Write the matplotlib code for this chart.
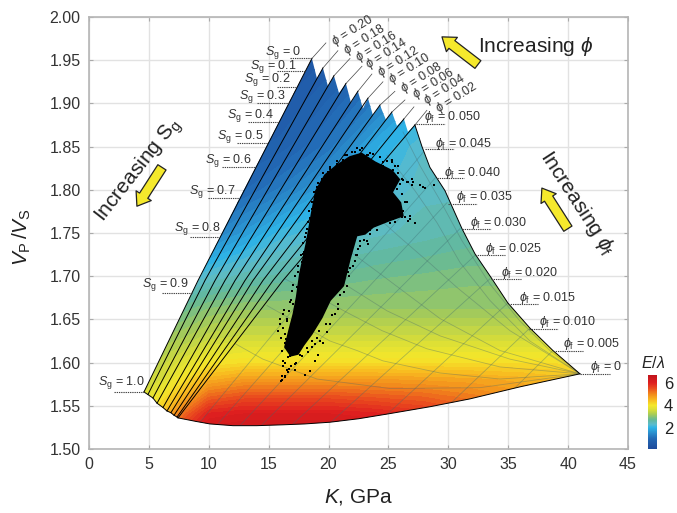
import matplotlib
matplotlib.use("Agg")
import matplotlib.pyplot as plt
from matplotlib.colors import LinearSegmentedColormap, Normalize
from matplotlib.cm import ScalarMappable
from matplotlib.patches import FancyArrowPatch, PathPatch
from matplotlib.path import Path

plt.rcParams["font.family"] = ["Liberation Sans", "DejaVu Sans"]
plt.rcParams["mathtext.fontset"] = "custom"
plt.rcParams["mathtext.rm"] = "Liberation Sans"
plt.rcParams["mathtext.it"] = "Liberation Sans:italic"
plt.rcParams["mathtext.fallback"] = "stixsans"

# constant porosity lines: peak, middle, lower end
peak_k = [18.61, 19.53, 20.45, 21.45, 22.45, 23.29, 24.29, 25.29, 26.29, 27.21]
peak_v = [1.952, 1.941, 1.932, 1.923, 1.914, 1.906, 1.898, 1.890, 1.882, 1.875]
mid_k = [9.10, 9.68, 10.52, 11.35, 12.19, 13.02, 13.69, 14.52, 15.36, 16.19]
mid_v = 1.695
end_k = [4.59, 4.92, 5.34, 5.68, 6.18, 6.51, 6.84, 7.10, 7.35, 7.43]
end_v = [1.566, 1.563, 1.559, 1.553, 1.548, 1.544, 1.542, 1.539, 1.537, 1.536]
valley_k = [19.03, 19.95, 20.87, 21.87, 22.87, 23.71, 24.79, 25.71, 26.63]
valley_v = [1.929, 1.920, 1.912, 1.901, 1.894, 1.886, 1.881, 1.874, 1.867]

# outline of the model space
right_k = [27.21, 27.80, 28.46, 29.72, 31.14, 32.22, 33.64, 34.97, 36.81, 38.73, 40.99]
right_v = [1.875, 1.850, 1.826, 1.799, 1.755, 1.726, 1.697, 1.669, 1.640, 1.614, 1.587]
bottom_k = [40.99, 36.00, 31.80, 28.50, 25.13, 22.50, 20.12, 18.00, 16.19, 14.00, 12.02, 10.10, 8.90, 7.43]
bottom_v = [1.587, 1.572, 1.558, 1.549, 1.541, 1.535, 1.531, 1.529, 1.528, 1.527, 1.527, 1.529, 1.532, 1.536]
left_k = [4.59, 8.68, 12.60, 18.61]
left_v = [1.566, 1.683, 1.791, 1.952]

# E/lambda
grid_k = [4, 6, 8, 10, 13, 16, 20, 24, 28, 32, 36, 42]
grid_v = [1.52, 1.54, 1.56, 1.58, 1.60, 1.63, 1.66, 1.70, 1.75, 1.80, 1.85, 1.90, 1.96]
grid_e = [
    [3.8, 4.8, 5.8, 6.3, 6.4, 6.4, 6.4, 6.3, 6.1, 5.9, 5.6, 4.8],
    [3.7, 4.4, 5.3, 6.0, 6.1, 6.1, 6.1, 6.0, 5.8, 5.5, 5.2, 4.7],
    [3.6, 4.0, 4.6, 5.3, 5.5, 5.5, 5.5, 5.4, 5.3, 5.1, 4.9, 4.5],
    [3.4, 3.6, 4.1, 4.6, 4.8, 4.8, 4.8, 4.8, 4.75, 4.7, 4.6, 4.4],
    [3.2, 3.4, 3.7, 4.0, 4.1, 4.1, 4.1, 4.1, 4.1, 4.1, 4.1, 4.1],
    [2.9, 3.1, 3.2, 3.4, 3.5, 3.5, 3.5, 3.5, 3.5, 3.5, 3.5, 3.5],
    [2.4, 2.6, 2.8, 3.0, 3.1, 3.1, 3.1, 3.1, 3.1, 3.1, 3.1, 3.1],
    [1.8, 2.0, 2.1, 2.3, 2.5, 2.6, 2.7, 2.8, 2.85, 2.9, 2.9, 2.9],
    [1.0, 1.1, 1.2, 1.3, 1.7, 2.1, 2.3, 2.4, 2.5, 2.6, 2.6, 2.6],
    [0.6, 0.7, 0.8, 0.9, 1.0, 1.3, 1.8, 2.1, 2.4, 2.4, 2.4, 2.4],
    [0.4, 0.4, 0.5, 0.6, 0.7, 0.8, 1.2, 1.9, 2.3, 2.3, 2.3, 2.3],
    [0.3, 0.3, 0.4, 0.4, 0.5, 0.6, 0.9, 1.3, 1.9, 2.2, 2.2, 2.2],
    [0.2, 0.2, 0.2, 0.3, 0.3, 0.4, 0.6, 0.9, 1.2, 1.6, 2.0, 2.2],
]

# gray lines inside the model space
pf_lines_k = [[28.05, 9.27], [29.05, 10.77], [29.88, 12.60], [30.97, 14.44], [32.22, 17.03],
              [33.47, 20.28], [34.97, 24.96], [36.81, 30.13], [38.73, 35.14]]
pf_lines_v = [[1.846, 1.531], [1.816, 1.529], [1.785, 1.527], [1.755, 1.528], [1.724, 1.529],
              [1.697, 1.532], [1.669, 1.541], [1.640, 1.552], [1.614, 1.565]]
fan_k = [
    [26.21, 27.63, 29.30, 31.14, 33.47, 35.98, 38.48, 40.99],
    [24.87, 27.21, 29.05, 30.97, 33.47, 36.81, 40.99],
    [22.45, 23.71, 25.96, 28.46, 30.72, 35.14, 40.99],
    [20.12, 22.04, 24.29, 26.21, 29.30, 34.31, 40.99],
    [18.28, 21.54, 24.87, 29.30, 35.14, 40.99],
    [16.36, 21.54, 24.46, 28.21, 34.31, 40.99],
    [14.86, 20.12, 22.37, 24.54, 29.30, 34.31, 40.99],
    [12.19, 14.52, 19.03, 25.13, 32.64, 40.99],
]
fan_v = [
    [1.867, 1.828, 1.788, 1.741, 1.691, 1.648, 1.614, 1.587],
    [1.840, 1.799, 1.762, 1.716, 1.672, 1.625, 1.587],
    [1.794, 1.773, 1.745, 1.715, 1.687, 1.637, 1.587],
    [1.755, 1.726, 1.703, 1.683, 1.651, 1.614, 1.587],
    [1.725, 1.689, 1.660, 1.631, 1.604, 1.587],
    [1.697, 1.658, 1.637, 1.616, 1.595, 1.587],
    [1.666, 1.625, 1.614, 1.602, 1.588, 1.581, 1.587],
    [1.622, 1.604, 1.581, 1.570, 1.571, 1.587],
]

# measured cloud: dense part and the loose points around it
cloud_k = [16.85, 16.36, 16.70, 17.06, 17.34, 17.61, 18.17, 18.58, 18.95, 19.70, 20.67, 21.78, 22.76, 23.87,
           25.30, 25.90, 25.30, 26.00, 26.20, 25.00, 23.73, 23.04, 22.34, 21.78, 21.23, 20.12, 19.43, 18.59, 17.90, 17.45]
cloud_v = [1.608, 1.618, 1.637, 1.656, 1.676, 1.703, 1.739, 1.772, 1.799, 1.817, 1.828, 1.838, 1.842, 1.832,
           1.822, 1.812, 1.797, 1.785, 1.770, 1.764, 1.757, 1.749, 1.747, 1.720, 1.689, 1.672, 1.652, 1.633, 1.620, 1.610]
loose_k = [16.92, 16.78, 16.31, 16.23, 15.95, 15.95, 15.75, 16.50, 16.36, 16.36, 16.14, 16.23, 16.23, 16.50,
           16.64, 16.36, 16.14, 16.03, 16.36, 16.78, 17.20, 18.31, 18.87, 18.45, 18.03, 19.15, 19.29, 19.56,
           18.87, 19.84, 19.01, 18.59, 20.12, 20.54, 20.82, 17.48, 17.76,
           25.26, 25.54, 25.82, 26.10, 25.40, 25.26, 25.96, 26.52, 26.93, 27.07, 26.93, 27.63, 27.91, 28.05,
           28.80, 25.68, 25.40, 25.26, 25.96, 26.52, 25.68, 26.24, 25.82, 26.38, 26.79, 27.21, 25.40, 25.12,
           24.43, 24.01, 23.45, 23.18, 23.32, 24.57,
           22.20, 22.76, 22.34, 23.18, 21.23, 20.11, 19.42, 19.00, 18.72, 18.44, 18.17, 17.94, 17.75,
           22.48, 22.20, 21.64, 22.62,
           16.08, 16.45, 16.64, 17.06, 17.34, 17.48, 17.89, 18.03, 18.59, 19.28, 19.98, 20.67, 21.37, 21.93,
           22.62, 23.32, 23.74, 24.57, 25.27, 25.82, 26.24, 26.66, 26.80, 26.66, 26.10, 25.54, 23.46, 22.62,
           22.40, 21.79, 21.51, 20.95, 26.10, 25.68, 26.38,
           17.00, 17.20, 17.45, 17.70, 17.90, 18.10, 18.30, 18.40, 18.60, 18.75, 19.10, 19.50, 20.10, 20.70,
           21.50, 23.50, 24.30, 24.90, 23.00, 22.60, 22.30, 22.00, 21.70, 21.30, 20.80, 20.30, 19.80, 19.20,
           18.60, 18.20, 17.00, 16.60, 17.30, 16.90, 17.60, 16.40, 16.70, 17.20, 16.50, 16.70, 16.90, 16.20, 16.00]
loose_v = [1.683, 1.670, 1.661, 1.656, 1.650, 1.645, 1.637, 1.648, 1.633, 1.623, 1.614, 1.602, 1.596, 1.592,
           1.589, 1.585, 1.580, 1.579, 1.583, 1.608, 1.598, 1.612, 1.602, 1.590, 1.586, 1.609, 1.625, 1.623,
           1.621, 1.635, 1.629, 1.618, 1.645, 1.656, 1.662, 1.616, 1.608,
           1.834, 1.828, 1.819, 1.813, 1.823, 1.813, 1.807, 1.809, 1.813, 1.809, 1.805, 1.805, 1.803, 1.802,
           1.806, 1.801, 1.793, 1.786, 1.784, 1.786, 1.778, 1.776, 1.772, 1.768, 1.766, 1.762, 1.766, 1.761,
           1.761, 1.753, 1.749, 1.741, 1.737, 1.828,
           1.844, 1.848, 1.848, 1.840, 1.834, 1.824, 1.813, 1.803, 1.786, 1.767, 1.755, 1.728, 1.716,
           1.732, 1.718, 1.705, 1.763,
           1.585, 1.627, 1.621, 1.668, 1.687, 1.705, 1.726, 1.745, 1.778, 1.807, 1.821, 1.830, 1.840, 1.844,
           1.846, 1.840, 1.842, 1.832, 1.832, 1.828, 1.811, 1.809, 1.770, 1.764, 1.768, 1.763, 1.753, 1.741,
           1.724, 1.710, 1.689, 1.678, 1.795, 1.784, 1.786,
           1.690, 1.700, 1.712, 1.725, 1.738, 1.750, 1.763, 1.775, 1.786, 1.797, 1.808, 1.820, 1.826, 1.833,
           1.840, 1.843, 1.838, 1.833, 1.742, 1.735, 1.725, 1.712, 1.700, 1.682, 1.668, 1.655, 1.645, 1.636,
           1.625, 1.617, 1.612, 1.606, 1.600, 1.596, 1.609, 1.600, 1.593, 1.592, 1.650, 1.660, 1.672, 1.640, 1.628]

# labels and their leaders
sg_names = ["0", "0.1", "0.2", "0.3", "0.4", "0.5", "0.6", "0.7", "0.8", "0.9", "1.0"]
sg_text_k = [16.19, 15.36, 14.86, 14.44, 13.44, 12.60, 11.60, 10.27, 9.02, 6.34, 2.67]
sg_text_v = [1.959, 1.943, 1.928, 1.908, 1.886, 1.862, 1.834, 1.798, 1.755, 1.690, 1.577]
sg_lead_k0 = [16.78, 15.69, 15.69, 14.02, 13.27, 12.35, 11.10, 9.93, 8.43, 6.09, 2.09]
sg_lead_k1 = [18.61, 18.03, 17.36, 16.69, 15.86, 14.94, 13.94, 12.52, 10.87, 8.60, 4.59]
sg_lead_v = [1.952, 1.937, 1.919, 1.901, 1.878, 1.854, 1.826, 1.790, 1.745, 1.681, 1.566]

pf_names = ["0.050", "0.045", "0.040", "0.035", "0.030", "0.025", "0.020", "0.015", "0.010", "0.005", "0"]
pf_text_k = [30.30, 31.22, 32.05, 32.97, 34.22, 35.39, 36.73, 38.23, 39.90, 41.90, 43.16]
pf_text_v = [1.884, 1.853, 1.820, 1.792, 1.762, 1.732, 1.704, 1.675, 1.647, 1.622, 1.595]
pf_lead_k0 = [27.30, 28.05, 29.05, 29.97, 31.14, 32.22, 33.56, 34.97, 36.73, 38.73, 40.99]
pf_lead_k1 = [29.72, 30.47, 31.30, 32.39, 33.56, 34.72, 36.06, 37.48, 39.15, 41.24, 43.49]
pf_lead_v = [1.876, 1.847, 1.814, 1.784, 1.755, 1.725, 1.697, 1.668, 1.639, 1.614, 1.587]

phi_names = ["0.20", "0.18", "0.16", "0.14", "0.12", "0.10", "0.08", "0.06", "0.04", "0.02"]
phi_text_k = [22.04, 23.04, 24.04, 24.87, 25.88, 26.79, 27.80, 28.80, 29.72, 30.72]
phi_text_v = [1.984, 1.974, 1.965, 1.957, 1.948, 1.940, 1.930, 1.923, 1.916, 1.907]
phi_lead_k = [19.78, 20.78, 21.79, 22.79, 23.62, 24.54, 25.54, 26.38, 27.13, 28.21]
phi_lead_v = [1.970, 1.961, 1.952, 1.943, 1.934, 1.925, 1.914, 1.904, 1.896, 1.892]

cmap_vals = [0.1, 1.0, 1.5, 2.0, 2.3, 2.7, 3.2, 3.6, 4.0, 4.5, 5.0, 5.5, 6.0, 6.7]
cmap_cols = ["#1e4b9b", "#2268b4", "#2a8ccc", "#2eb3e6", "#5cbccc", "#63b89a", "#a9cc55",
             "#d9de38", "#f5e72a", "#f8b81f", "#f28a1c", "#ea4e1e", "#df1f1f", "#c0141c"]
e_min, e_max = cmap_vals[0], cmap_vals[-1]
cmap = LinearSegmentedColormap.from_list(
    "elam", [((v - e_min) / (e_max - e_min), c) for v, c in zip(cmap_vals, cmap_cols)])
norm = Normalize(e_min, e_max)

fig = plt.figure(figsize=(6.77, 5.13), dpi=100)
ax = fig.add_axes([89 / 677, 1 - 449 / 513, 539 / 677, 432 / 513])

ax.set_xlim(0, 45)
ax.set_ylim(1.5, 2.0)
ax.set_xticks(range(0, 46, 5))
ax.set_yticks([1.5 + 0.05 * i for i in range(11)])
ax.set_yticklabels(["%.2f" % (1.5 + 0.05 * i) for i in range(11)])
ax.grid(color="#e2e2e2", lw=1)
ax.set_axisbelow(True)
ax.tick_params(direction="in", length=3, color="#aaaaaa", top=True, right=True,
               labelsize=11.5, labelcolor="#333333", pad=6)
for s in ax.spines.values():
    s.set_color("#b5b5b5")
    s.set_linewidth(1.2)

# model space outline, zigzag along the top
out_k, out_v = [], []
for i in range(len(valley_k)):
    out_k += [peak_k[i], valley_k[i]]
    out_v += [peak_v[i], valley_v[i]]
out_k += right_k + bottom_k[1:] + end_k[::-1] + left_k
out_v += right_v + bottom_v[1:] + end_v[::-1] + left_v
clip_patch = PathPatch(Path(list(zip(out_k, out_v))), fc="none", ec="none", transform=ax.transData)
ax.add_patch(clip_patch)

levels = [e_min + 0.13 * i for i in range(52)]
field = ax.contourf(grid_k, grid_v, grid_e, levels=levels, cmap=cmap, norm=norm, zorder=1)
field.set_clip_path(clip_patch)

for xs, ys in zip(pf_lines_k, pf_lines_v):
    ln, = ax.plot(xs, ys, color="#3a6a70", lw=0.6, alpha=0.38, zorder=2)
    ln.set_clip_path(clip_patch)
for xs, ys in zip(fan_k, fan_v):
    ln, = ax.plot(xs, ys, color="#4a6a6a", lw=0.6, alpha=0.38, zorder=2)
    ln.set_clip_path(clip_patch)

for i in range(len(peak_k)):
    ax.plot([phi_lead_k[i], peak_k[i]], [phi_lead_v[i], peak_v[i]], color="#444444", lw=0.5, zorder=3)
    ax.plot([peak_k[i], mid_k[i], end_k[i]], [peak_v[i], mid_v, end_v[i]], color="black", lw=0.7, zorder=3)
    ax.text(phi_text_k[i], phi_text_v[i], r"$\phi$ = " + phi_names[i], rotation=32, fontsize=9,
            color="#333333", ha="center", va="center", rotation_mode="anchor", zorder=5)
ax.plot(right_k, right_v, color="black", lw=0.7, zorder=3)
ax.plot(bottom_k + end_k[::-1], bottom_v + end_v[::-1], color="black", lw=0.7, zorder=3)

ax.fill(cloud_k, cloud_v, color="black", lw=1.2, zorder=4)
ax.scatter(loose_k, loose_v, s=2.6, color="black", marker="s", lw=0, zorder=4)

for i in range(len(sg_names)):
    ax.plot([sg_lead_k0[i], sg_lead_k1[i]], [sg_lead_v[i]] * 2, color="#444444", lw=0.8, ls=(0, (1.2, 0.8)), zorder=5)
    ax.text(sg_text_k[i], sg_text_v[i], r"$S_{\mathrm{g}}$ = " + sg_names[i], fontsize=9,
            color="#333333", ha="center", va="center", zorder=5)
for i in range(len(pf_names)):
    ax.plot([pf_lead_k0[i], pf_lead_k1[i]], [pf_lead_v[i]] * 2, color="#444444", lw=0.8, ls=(0, (1.2, 0.8)), zorder=5)
    ax.text(pf_text_k[i], pf_text_v[i], r"$\phi_{\mathrm{f}}$ = " + pf_names[i], fontsize=9,
            color="#333333", ha="center", va="center", zorder=5)

ax.text(37.3, 1.9655, r"Increasing $\phi$", fontsize=15, color="#222222", ha="center", va="center")
ax.text(4.1, 1.8225, r"Increasing S$_{\mathrm{g}}$", fontsize=15, color="#222222", rotation=52,
        ha="center", va="center", rotation_mode="anchor")
ax.text(40.8, 1.785, r"Increasing $\phi_{\mathrm{f}}$", fontsize=15, color="#222222", rotation=-57,
        ha="center", va="center", rotation_mode="anchor")

arrow_tails = [(32.47, 1.945), (6.09, 1.826), (39.98, 1.755)]
arrow_tips = [(29.47, 1.977), (4.0, 1.781), (37.81, 1.802)]
for tail, tip in zip(arrow_tails, arrow_tips):
    ax.add_patch(FancyArrowPatch(tail, tip, arrowstyle="simple,head_width=13,head_length=9,tail_width=7",
                                 mutation_scale=1, fc="#f5e92c", ec="#222222", lw=0.9,
                                 shrinkA=0, shrinkB=0, zorder=5))

ax.set_xlabel(r"$K$, GPa", fontsize=15, color="#222222", va="center")
ax.xaxis.set_label_coords(0.5, -0.111)
ax.set_ylabel(r"$V_{\mathrm{P}}\,/V_{\mathrm{S}}$", fontsize=15, color="#222222", va="center")
ax.yaxis.set_label_coords(-0.124, 0.49)

cax = fig.add_axes([648 / 677, 1 - 449 / 513, 9 / 677, 74 / 513])
cb = fig.colorbar(ScalarMappable(norm=norm, cmap=cmap), cax=cax, ticks=[2, 4, 6])
cb.outline.set_visible(False)
cax.tick_params(length=0, labelsize=12, labelcolor="#222222", pad=5)
fig.text(653 / 677, 1 - 363 / 513, r"$E/\lambda$", fontsize=11.5, ha="center", va="center", color="#222222")

fig.savefig("out.png", dpi=100)
